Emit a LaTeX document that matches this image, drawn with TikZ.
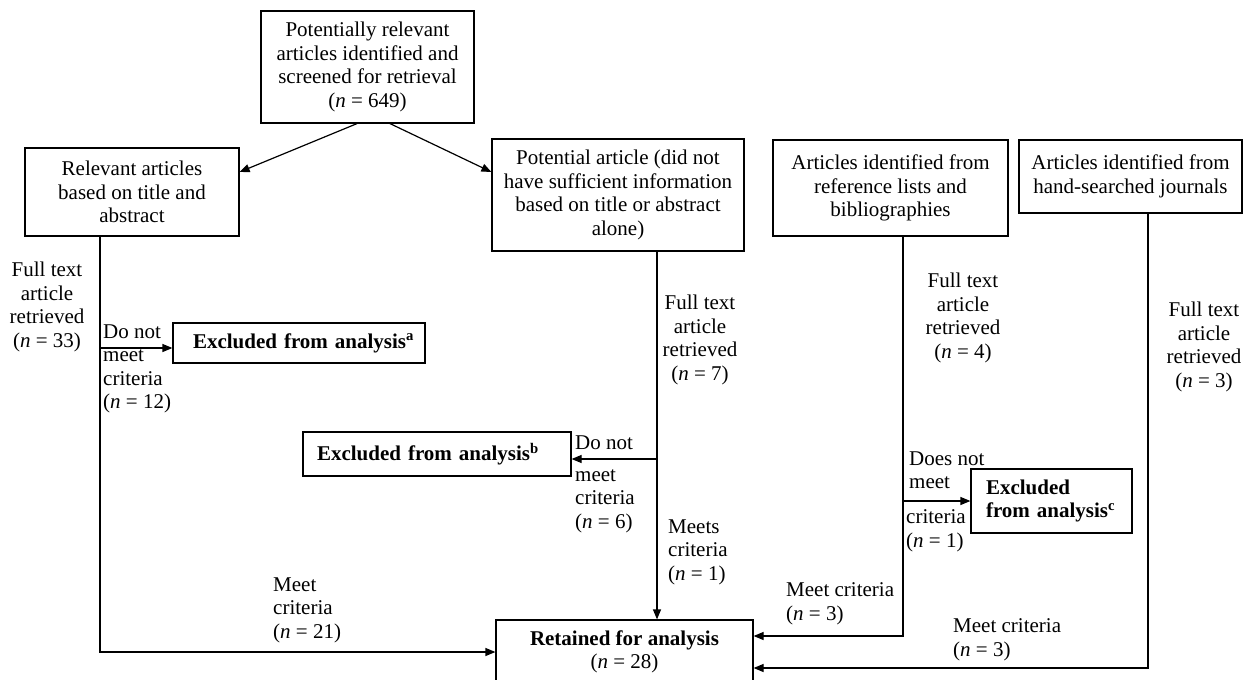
\documentclass[tikz,border=0pt]{standalone}
\usepackage{fontspec}
\setmainfont{Liberation Serif}
\usetikzlibrary{arrows.meta}
\begin{document}
\begin{tikzpicture}[x=1pt,y=-1pt,
  every node/.style={font=\fontsize{21}{23.5}\selectfont},
  box/.style={draw,line width=1.2pt,inner sep=0pt,align=center},
  exbox/.style={draw,line width=1.2pt,inner sep=0pt,align=left},
  lab/.style={inner sep=0pt,align=left,anchor=west},
  clab/.style={inner sep=0pt,align=center},
  conn/.style={line width=1.2pt},
  arr/.style={conn,-{Triangle[length=10pt,width=8pt]}}]
\useasboundingbox (0,0) rectangle (1243,680);

% boxes
\node[box,minimum width=213pt,minimum height=112pt] (top) at (367.5,67)
  {Potentially relevant\\articles identified and\\screened for retrieval\\(\textit{n} = 649)};
\node[box,minimum width=214pt,minimum height=88pt] (rel) at (132,192)
  {Relevant articles\\based on title and\\abstract};
\node[box,minimum width=252pt,minimum height=112pt] (pot) at (618,195)
  {Potential article (did not\\have sufficient information\\based on title or abstract\\alone)};
\node[box,minimum width=235pt,minimum height=96pt] (ref) at (890.5,188)
  {Articles identified from\\reference lists and\\bibliographies};
\node[box,minimum width=223pt,minimum height=73pt] (hand) at (1130.5,176.5)
  {Articles identified from\\hand-searched journals};
\node[exbox,minimum height=40pt,text width=252pt] (exa) at (299,343)
  {\hspace*{20pt}\textbf{Excluded from analysis\textsuperscript{a}}};
\node[exbox,minimum height=44pt,text width=268pt] (exb) at (437,454)
  {\hspace*{14pt}\textbf{Excluded from analysis\textsuperscript{b}}};
\node[exbox,minimum height=64pt,text width=161pt] (exc) at (1051.5,501)
  {\hspace*{15pt}\textbf{Excluded}\\\hspace*{15pt}\textbf{from analysis\textsuperscript{c}}};
\node[box,minimum width=257pt,minimum height=64pt] (ret) at (624.5,652)
  {\textbf{Retained for analysis}\\(\textit{n} = 28)};

% guide coordinates
\coordinate (ta) at (357,0);
\coordinate (tb) at (390,0);
\coordinate (lv) at (100,0);
\coordinate (pv) at (657,0);
\coordinate (rv) at (903,0);
\coordinate (hv) at (1148,0);
\coordinate (ea) at ([yshift=-5pt]exa.west);
\coordinate (eb) at ([yshift=-5pt]exb.east);

% connectors
\draw[arr] (top.south -| ta) -- ([yshift=20pt]rel.east);
\draw[arr] (top.south -| tb) -- ([yshift=23pt]pot.west);
\draw[arr] (rel.south -| lv) |- (ret.west);
\draw[arr] (ea -| lv) -- (ea);
\draw[arr] (pot.south -| pv) -- (ret.north -| pv);
\draw[arr] (eb -| pv) -- (eb);
\draw[arr] (ref.south -| rv) |- ([yshift=16pt]ret.east);
\draw[arr] (exc.west -| rv) -- (exc.west);
\draw[arr] (hand.south -| hv) |- ([yshift=-16pt]ret.east);

% labels
\node[clab] (l33) at (47,307) {Full text\\article\\retrieved\\(\textit{n} = 33)};
\node[lab] (l12) at (103,369) {Do not\\meet\\criteria\\(\textit{n} = 12)};
\node[clab] (l7) at (700,340) {Full text\\article\\retrieved\\(\textit{n} = 7)};
\node[lab] (l6a) at (575,443) {Do not};
\node[lab] (l6b) at (575,501) {meet\\criteria\\(\textit{n} = 6)};
\node[lab] (l1m) at (668,552) {Meets\\criteria\\(\textit{n} = 1)};
\node[lab] (l21) at (273,610) {Meet\\criteria\\(\textit{n} = 21)};
\node[clab] (l4) at (963,318) {Full text\\article\\retrieved\\(\textit{n} = 4)};
\node[lab] (lc1) at (909,470) {Does not\\meet};
\node[lab] (lc2) at (906,531) {criteria\\(\textit{n} = 1)};
\node[lab] (l3a) at (786,604) {Meet criteria\\(\textit{n} = 3)};
\node[lab] (l3b) at (953,640) {Meet criteria\\(\textit{n} = 3)};
\node[clab] (l3h) at (1204,347) {Full text\\article\\retrieved\\(\textit{n} = 3)};
\end{tikzpicture}
\end{document}
